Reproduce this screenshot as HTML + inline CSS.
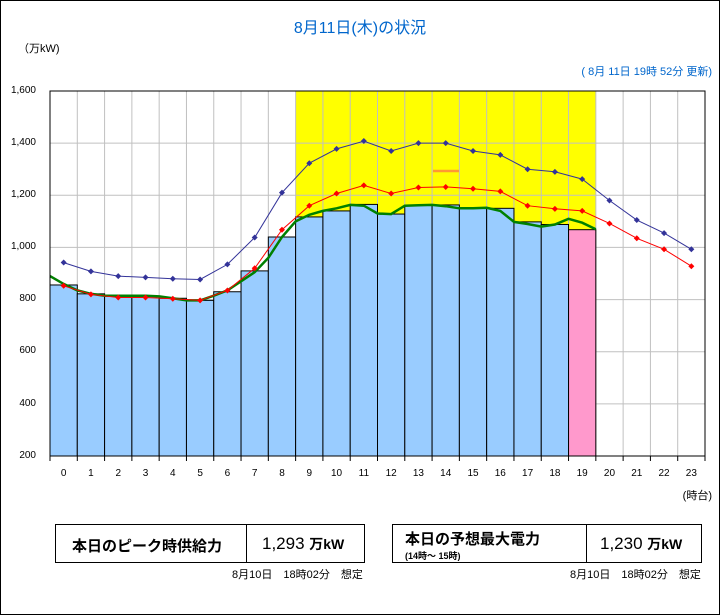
<!DOCTYPE html>
<html><head><meta charset="utf-8"><style>
body{margin:0;width:720px;height:615px;overflow:hidden;background:#fff;font-family:"Liberation Sans","Noto Sans CJK JP",sans-serif}
#f{position:absolute;left:0;top:0;width:718px;height:613px;border:1px solid #000}
.t{position:absolute;white-space:nowrap}
.box{position:absolute;border:1px solid #000;height:51px;top:557px;background:#fff}
</style></head><body>
<div id="f"></div>
<div class="t" style="left:0;width:720px;text-align:center;top:14px;color:#0066cc;font-size:16px">8月11日(木)の状況</div>
<div class="t" style="left:18px;top:40px;font-size:11px">（万kW)</div>
<div class="t" style="right:8px;top:63px;font-size:11px;color:#0066cc">( 8月 11日 19時 52分 更新)</div>
<svg id="s" width="720" height="615" style="position:absolute;left:0;top:0"></svg>
<div class="t" style="right:8px;top:487px;font-size:11px">(時台)</div>
<div class="box" style="left:55px;top:524px;width:308px;height:37px"></div>
<div class="box" style="left:55px;top:524px;width:190px;height:37px"></div>
<div class="t" style="left:72px;top:535px;font-size:15px;font-weight:bold">本日のピーク時供給力</div>
<div class="t" style="left:262px;top:534px;font-size:17px">1,293 <span style="font-size:14px;font-weight:bold">万kW</span></div>
<div class="t" style="left:232px;top:566px;font-size:11px">8月10日　18時02分　想定</div>
<div class="box" style="left:392px;top:524px;width:308px;height:37px"></div>
<div class="box" style="left:392px;top:524px;width:193px;height:37px"></div>
<div class="t" style="left:405px;top:528px;font-size:15px;font-weight:bold">本日の予想最大電力</div>
<div class="t" style="left:405px;top:549px;font-size:9px;font-weight:bold">(14時～ 15時)</div>
<div class="t" style="left:600px;top:534px;font-size:17px">1,230 <span style="font-size:14px;font-weight:bold">万kW</span></div>
<div class="t" style="left:570px;top:566px;font-size:11px">8月10日　18時02分　想定</div>
<div class="t" style="left:10px;top:85px;font-size:10px;width:26px;text-align:right">1,600</div>
<div class="t" style="left:10px;top:137px;font-size:10px;width:26px;text-align:right">1,400</div>
<div class="t" style="left:10px;top:189px;font-size:10px;width:26px;text-align:right">1,200</div>
<div class="t" style="left:10px;top:241px;font-size:10px;width:26px;text-align:right">1,000</div>
<div class="t" style="left:10px;top:293px;font-size:10px;width:26px;text-align:right">800</div>
<div class="t" style="left:10px;top:345px;font-size:10px;width:26px;text-align:right">600</div>
<div class="t" style="left:10px;top:398px;font-size:10px;width:26px;text-align:right">400</div>
<div class="t" style="left:10px;top:450px;font-size:10px;width:26px;text-align:right">200</div>
<script>
var X0=50,W=655/24,Y=v=>456-(v-200)*365/1400,s='';
var bars=[856,822,812,812,805,797,830,910,1040,1117,1140,1165,1128,1162,1163,1150,1150,1098,1088,1068];
var blue=[942,908,890,885,880,877,935,1038,1210,1323,1378,1408,1370,1400,1400,1370,1355,1300,1290,1262,1180,1105,1055,993];
var red=[853,820,808,808,803,797,835,920,1068,1160,1207,1238,1207,1230,1232,1225,1215,1160,1148,1140,1092,1035,993,928];
s+=`<rect x="${X0+9*W}" y="91" width="${11*W}" height="365" fill="#ffff00"/>`;
for(var i=1;i<24;i++)s+=`<line x1="${X0+i*W}" y1="91" x2="${X0+i*W}" y2="456" stroke="#c0c0c0"/>`;
for(var v=400;v<1600;v+=200)s+=`<line x1="50" y1="${Y(v)}" x2="705" y2="${Y(v)}" stroke="#c0c0c0"/>`;
bars.forEach((b,i)=>s+=`<rect x="${X0+i*W}" y="${Y(b)}" width="${W}" height="${456-Y(b)}" fill="${i==19?'#ff99cc':'#99ccff'}" stroke="#000"/>`);
var gv=[890,860,835,822,815,815,815,815,812,805,797,797,815,835,870,905,960,1040,1100,1125,1140,1150,1163,1160,1130,1128,1160,1162,1163,1158,1150,1150,1152,1140,1098,1090,1080,1088,1110,1095,1070];
var g=gv.map((v,k)=>(X0+k*W/2).toFixed(1)+','+Y(v).toFixed(1));
s+=`<polyline points="${g.join(' ')}" fill="none" stroke="#008000" stroke-width="2.5"/>`;
function ln(a,c){var p=a.map((v,i)=>(X0+(i+.5)*W).toFixed(1)+','+Y(v).toFixed(1));s+=`<polyline points="${p.join(' ')}" fill="none" stroke="${c}" stroke-width="1"/>`;a.forEach((v,i)=>{var x=X0+(i+.5)*W,y=Y(v);s+=`<path d="M${x-3} ${y}L${x} ${y-3}L${x+3} ${y}L${x} ${y+3}Z" fill="${c}"/>`});}
ln(blue,'#333399');ln(red,'#ff0000');
s+=`<line x1="433" y1="171" x2="459" y2="171" stroke="#ff9933" stroke-width="2.5"/>`;
s+=`<rect x="50" y="91" width="655" height="365" fill="none" stroke="#000"/>`;
for(var i=0;i<=24;i++)s+=`<line x1="${X0+i*W}" y1="456" x2="${X0+i*W}" y2="461" stroke="#000"/>`;
var t='';for(var i=0;i<24;i++)t+=`<text x="${X0+(i+.5)*W}" y="476" font-size="10" text-anchor="middle" font-family="Liberation Sans,sans-serif">${i}</text>`;
document.getElementById('s').innerHTML=s+t;
</script>
</body></html>
